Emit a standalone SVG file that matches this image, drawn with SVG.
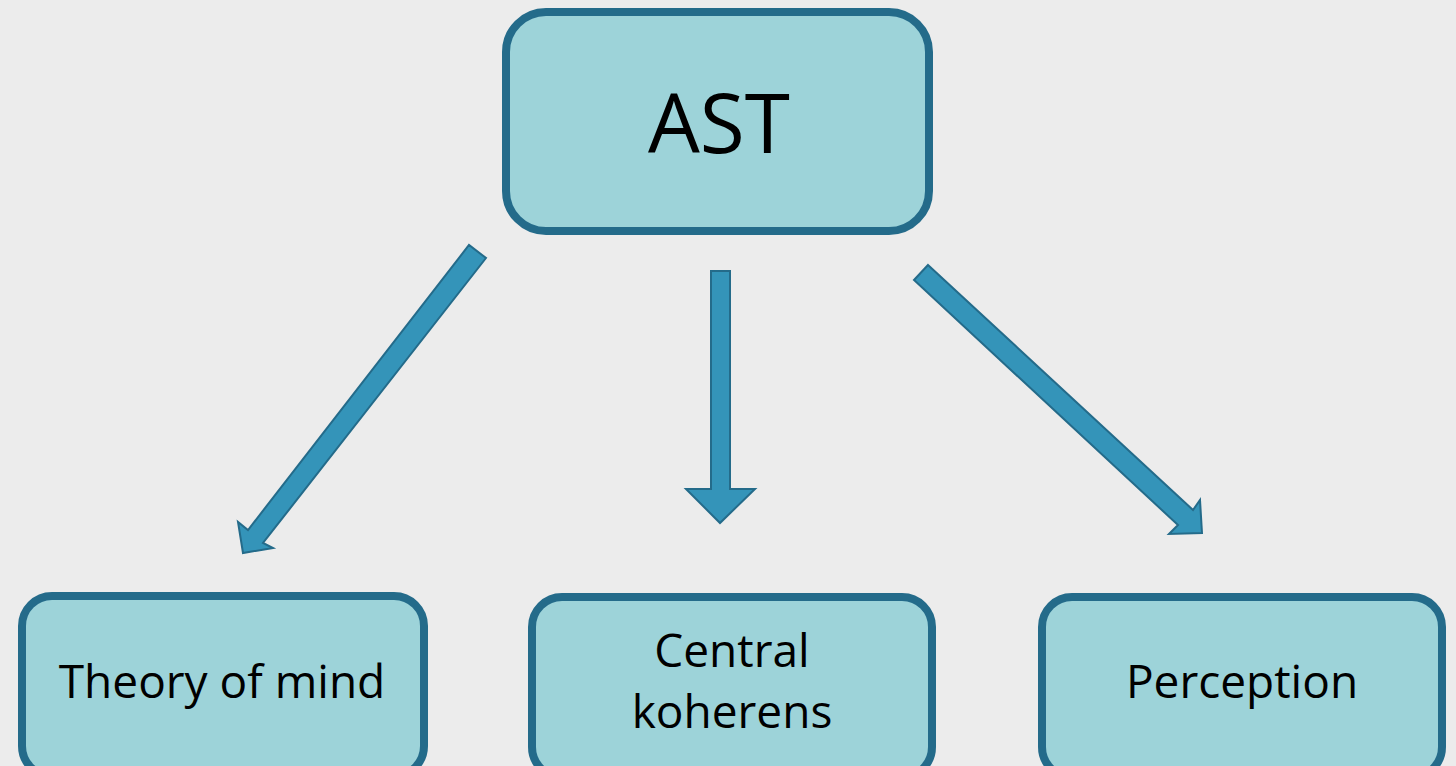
<svg xmlns="http://www.w3.org/2000/svg" width="1456" height="766" viewBox="0 0 1456 766">
<style>
.box{fill:#9dd3d9;stroke:#246b8a;stroke-width:8}
.arr{fill:#3494b9;stroke:#246b8a;stroke-width:2;stroke-linejoin:miter}
.t{font-family:"Open Sans","Liberation Sans",sans-serif;fill:#000;text-anchor:middle}
</style>
<rect width="1456" height="766" fill="#ececec"/>
<g id="connectors">
<path class="arr" d="M486,258 L263,543 L273,548 L243,553 L238,522 L248,530 L469,245 Z"/>
<path class="arr" d="M711,271 L730,271 L730,489 L755,489 L720,523 L686,489 L711,489 Z"/>
<path class="arr" d="M928,265 L1193,510 L1200,500 L1202,533 L1169,534 L1178,525 L914,280 Z"/>
</g>
<g id="node-ast">
<rect class="box" x="506" y="12" width="423" height="219" rx="40"/>
<text class="t" x="719" y="153" font-size="82">AST</text>
</g>
<g id="node-tom">
<rect class="box" x="22" y="596" width="402" height="180" rx="30"/>
<text class="t" x="222" y="698" font-size="46">Theory of mind</text>
</g>
<g id="node-cc">
<rect class="box" x="532" y="597" width="400" height="180" rx="30"/>
<text class="t" x="732" y="667" font-size="46">Central</text>
<text class="t" x="732" y="728" font-size="46">koherens</text>
</g>
<g id="node-perc">
<rect class="box" x="1042" y="597" width="400" height="180" rx="30"/>
<text class="t" x="1242" y="698" font-size="46">Perception</text>
</g>
</svg>
